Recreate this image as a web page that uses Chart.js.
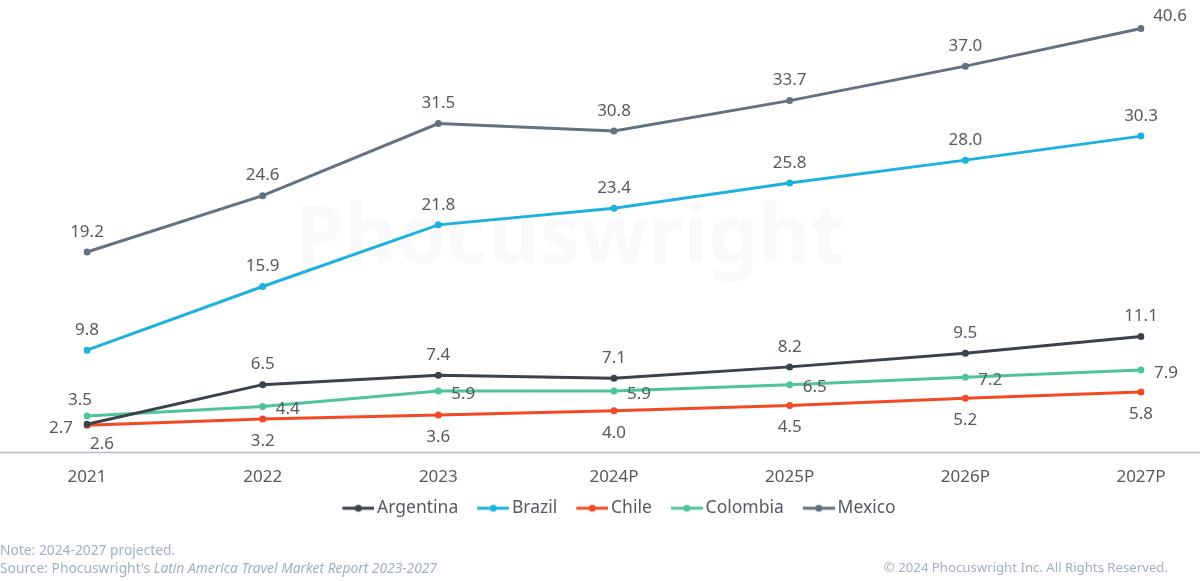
<!DOCTYPE html>
<html>
<head>
<meta charset="utf-8">
<script src="https://cdn.jsdelivr.net/npm/chart.js@4"></script>
<style>
  html, body { margin: 0; padding: 0; background: #fff; }
  #wrap { position: relative; width: 1200px; height: 581px; }
  #chart { position: absolute; left: 0; top: 0; }
  .note { position: absolute; left: 0; font: 13.8px "Noto Sans", sans-serif; color: #9fb0c2; white-space: nowrap; }
  .copy { position: absolute; right: 32px; top: 558px; font: 13.2px "Noto Sans", sans-serif; color: #9fb0c2; }
</style>
</head>
<body>
<div id="wrap">
  <canvas id="chart" width="1200" height="581"></canvas>
  <div class="note" style="top:540px">Note: 2024-2027 projected.</div>
  <div class="note" style="top:558px">Source: Phocuswright's <i>Latin America Travel Market Report 2023-2027</i></div>
  <div class="copy">© 2024 Phocuswright Inc. All Rights Reserved.</div>
</div>
<script>
// categories
const years = ['2021', '2022', '2023', '2024P', '2025P', '2026P', '2027P'];

// series values
const argentina = [2.7, 6.5, 7.4, 7.1, 8.2, 9.5, 11.1];
const brazil = [9.8, 15.9, 21.8, 23.4, 25.8, 28.0, 30.3];
const chile = [2.6, 3.2, 3.6, 4.0, 4.5, 5.2, 5.8];
const colombia = [3.5, 4.4, 5.9, 5.9, 6.5, 7.2, 7.9];
const mexico = [19.2, 24.6, 31.5, 30.8, 33.7, 37.0, 40.6];

const colors = {
    Argentina: '#3b424b',
    Brazil: '#1fb1dd',
    Chile: '#f24a24',
    Colombia: '#4fc49c',
    Mexico: '#637283'
};

// where each value label sits relative to its point
const labelPlace = {
    Argentina: i => i === 0 ? { dx: -14, dy: 4, align: 'right' } : { dx: 0, dy: -20, align: 'center' },
    Brazil: i => ({ dx: 0, dy: -20, align: 'center' }),
    Chile: i => i === 0 ? { dx: 15, dy: 19, align: 'center' } : { dx: 0, dy: 22, align: 'center' },
    Colombia: i => i === 0 ? { dx: -7, dy: -16, align: 'center' } : { dx: 13, dy: 3, align: 'left' },
    Mexico: i => i === 6 ? { dx: 29, dy: -12, align: 'center' } : { dx: 0, dy: -20, align: 'center' }
};

function makeSeries(name, values) {
    return {
        label: name,
        data: values,
        borderColor: colors[name],
        backgroundColor: colors[name],
        borderWidth: 3,
        pointRadius: 3.5,
        pointBorderWidth: 0,
        pointHoverRadius: 3.5,
        tension: 0
    };
}

// line-with-dot swatch for the legend, drawn in the right part of a
// wider transparent image so it sits close to its text
function swatch(color) {
    const c = document.createElement('canvas');
    c.width = 48; c.height = 10;
    const g = c.getContext('2d');
    g.strokeStyle = color; g.lineWidth = 3;
    g.beginPath(); g.moveTo(16, 5); g.lineTo(48, 5); g.stroke();
    g.fillStyle = color;
    g.beginPath(); g.arc(32, 5, 3.5, 0, Math.PI * 2); g.fill();
    return c;
}

const valueLabels = {
    id: 'valueLabels',
    afterDatasetsDraw(chart) {
        const ctx = chart.ctx;
        ctx.save();
        ctx.font = '17px "Noto Sans", sans-serif';
        ctx.fillStyle = '#555a60';
        ctx.textBaseline = 'middle';
        chart.data.datasets.forEach((ds, di) => {
            const meta = chart.getDatasetMeta(di);
            meta.data.forEach((pt, i) => {
                const p = labelPlace[ds.label](i);
                ctx.textAlign = p.align;
                ctx.fillText(ds.data[i].toFixed(1), pt.x + p.dx, pt.y + p.dy);
            });
        });
        ctx.restore();
    }
};

const background = {
    id: 'background',
    beforeDatasetsDraw(chart) {
        const ctx = chart.ctx;
        const a = chart.chartArea;
        ctx.save();
        // faint watermark
        ctx.font = 'bold 80px "Noto Sans", sans-serif';
        ctx.fillStyle = 'rgba(230,236,242,0.3)';
        ctx.textAlign = 'center';
        ctx.textBaseline = 'middle';
        ctx.fillText('Phocuswright', 570, 240);
        // baseline across the full width
        ctx.strokeStyle = '#b5bdc8';
        ctx.lineWidth = 1.5;
        ctx.beginPath();
        ctx.moveTo(0, a.bottom);
        ctx.lineTo(chart.width, a.bottom);
        ctx.stroke();
        ctx.restore();
    }
};

new Chart(document.getElementById('chart'), {
    type: 'line',
    data: {
        labels: years,
        datasets: [
            makeSeries('Argentina', argentina),
            makeSeries('Brazil', brazil),
            makeSeries('Chile', chile),
            makeSeries('Colombia', colombia),
            makeSeries('Mexico', mexico)
        ]
    },
    options: {
        responsive: false,
        animation: false,
        layout: { padding: { left: 87, right: 59, top: 0, bottom: 54 } },
        scales: {
            x: {
                offset: false,
                grid: { display: false, drawTicks: false },
                border: { display: false },
                ticks: { color: '#555a60', font: { family: '"Noto Sans", sans-serif', size: 17 }, padding: 14, maxRotation: 0 },
                afterFit(scale) { scale.height = 38; }
            },
            y: {
                display: false,
                min: 0,
                max: 43
            }
        },
        plugins: {
            tooltip: { enabled: false },
            legend: {
                position: 'bottom',
                labels: {
                    usePointStyle: true,
                    pointStyleWidth: 36,
                    color: '#555a60',
                    font: { family: '"Noto Sans", sans-serif', size: 17.5, lineHeight: 1 },
                    padding: 9,
                    generateLabels(chart) {
                        return chart.data.datasets.map((ds, i) => ({
                            text: ds.label,
                            fillStyle: ds.borderColor,
                            strokeStyle: ds.borderColor,
                            pointStyle: swatch(ds.borderColor),
                            fontColor: '#555a60',
                            datasetIndex: i,
                            hidden: false
                        }));
                    }
                }
            }
        }
    },
    plugins: [background, valueLabels]
});
</script>
</body>
</html>
